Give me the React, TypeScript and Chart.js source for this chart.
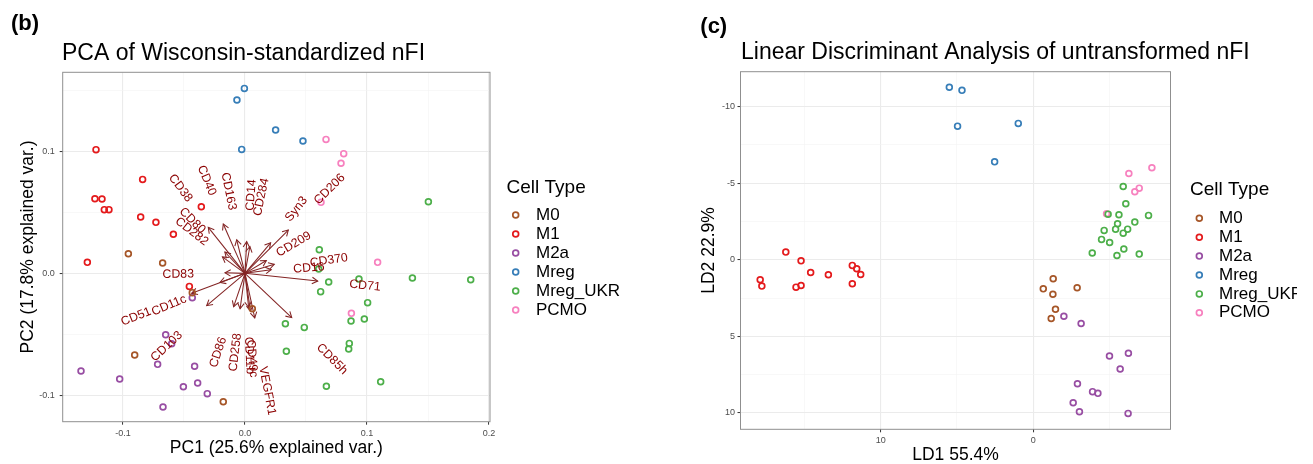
import React, { useEffect, useRef } from "react";
import { Chart, registerables } from "chart.js";

Chart.register(...registerables);

const FONT = "'Liberation Sans', Arial, Helvetica, sans-serif";

// ---------- categories ----------
const cellTypes = ["M0", "M1", "M2a", "Mreg", "Mreg_UKR", "PCMO"];
const cellColors = ["#A65628", "#E41A1C", "#984EA3", "#377EB8", "#4DAF4A", "#F781BF"];

// ---------- PCA scores (PC1, PC2) ----------
const pcaM0 = [[-0.0956, 0.0161], [-0.0675, 0.0085], [-0.0432, -0.0158], [0.006, -0.029], [-0.0904, -0.0669], [-0.0178, -0.1052]];
const pcaM1 = [[-0.1221, 0.1014], [-0.0839, 0.077], [-0.123, 0.0612], [-0.1172, 0.0609], [-0.1153, 0.0522], [-0.1115, 0.0522], [-0.0358, 0.0546], [-0.0855, 0.0462], [-0.073, 0.0418], [-0.0587, 0.032], [-0.1292, 0.009], [-0.0456, -0.0107]];
const pcaM2a = [[-0.0432, -0.0199], [-0.065, -0.0503], [-0.0601, -0.0577], [-0.0716, -0.0746], [-0.1344, -0.0801], [-0.1027, -0.0866], [-0.0413, -0.0762], [-0.0505, -0.0929], [-0.0388, -0.0899], [-0.0309, -0.0986], [-0.0672, -0.1096]];
const pcaMreg = [[-0.0005, 0.1516], [-0.0066, 0.1421], [0.0251, 0.1175], [0.0475, 0.1085], [-0.0027, 0.1016]];
const pcaMregUKR = [[0.1503, 0.0587], [0.0609, 0.0194], [0.0604, 0.0036], [0.0686, -0.0071], [0.062, -0.015], [0.0934, -0.0046], [0.1372, -0.0038], [0.185, -0.0052], [0.1005, -0.024], [0.0978, -0.0374], [0.0869, -0.0391], [0.0331, -0.0413], [0.0486, -0.0443], [0.0339, -0.0639], [0.0855, -0.0574], [0.085, -0.062], [0.0667, -0.0926], [0.1112, -0.0888]];
const pcaPCMO = [[0.0664, 0.1098], [0.0809, 0.0981], [0.0787, 0.0902], [0.0623, 0.0582], [0.1087, 0.009], [0.0872, -0.0328]];
const pcaScores = [pcaM0, pcaM1, pcaM2a, pcaMreg, pcaMregUKR, pcaPCMO];

// ---------- PCA loadings (arrows) and their label anchors ----------
const loadingNames = ["CD38", "CD40", "CD163", "CD14", "CD284", "Syn3", "CD206", "CD209", "CD80", "CD282", "CD370", "CD16", "CD71", "CD85h", "VEGFR1", "CD83", "CD11c", "CD51", "CD103", "CD86", "CD258", "CD11b", "CD49c"];
const loadingX = [-0.0301, -0.0178, -0.0068, 0.0014, 0.004, 0.021, 0.0355, 0.0175, -0.0165, -0.0185, 0.024, 0.0215, 0.0596, 0.0383, 0.008, -0.0164, -0.0205, -0.0437, -0.0314, -0.0093, -0.004, 0.003, 0.0045];
const loadingY = [0.0377, 0.0404, 0.0275, 0.026, 0.022, 0.025, 0.0355, 0.0105, 0.0175, 0.0135, 0.0075, 0.003, -0.0063, -0.0363, -0.0365, 0.0005, -0.0075, -0.0164, -0.0265, -0.0273, -0.029, -0.028, -0.031];
const labelX = [-0.0451, -0.0265, -0.0104, 0.0041, 0.0101, 0.035, 0.0582, 0.0265, -0.0341, -0.0314, 0.0533, 0.0396, 0.0855, 0.0601, 0.0145, -0.0418, -0.0484, -0.0773, -0.0527, -0.0178, -0.006, 0.0027, 0.0045];
const labelY = [0.0595, 0.0642, 0.0519, 0.0513, 0.0472, 0.0437, 0.0579, 0.0158, 0.0341, 0.0246, 0.0082, 0.0033, -0.0088, -0.0593, -0.0765, -0.0006, -0.0205, -0.0309, -0.0492, -0.0525, -0.0492, -0.052, -0.0545];

// ---------- LDA scores (LD1, LD2) ----------
const ldaM0 = [[-1.31, 1.24], [-0.66, 1.9], [-1.29, 2.25], [-2.88, 1.83], [-1.46, 3.23], [-1.18, 3.84]];
const ldaM1 = [[16.22, -0.5], [15.22, 0.07], [17.9, 1.31], [17.79, 1.72], [14.59, 0.83], [13.43, 0.98], [15.55, 1.79], [15.22, 1.68], [11.86, 0.37], [11.57, 0.59], [11.31, 0.96], [11.86, 1.57]];
const ldaM2a = [[-2.01, 3.69], [-3.14, 4.17], [-5.0, 6.29], [-6.24, 6.11], [-5.7, 7.14], [-2.9, 8.1], [-3.89, 8.62], [-4.24, 8.73], [-2.62, 9.34], [-3.03, 9.93], [-6.22, 10.04]];
const ldaMreg = [[5.5, -11.27], [4.67, -11.07], [4.96, -8.73], [0.98, -8.91], [2.53, -6.4]];
const ldaMregUKR = [[-5.9, -4.79], [-6.07, -3.66], [-4.91, -2.98], [-5.62, -2.94], [-7.56, -2.9], [-6.66, -2.46], [-5.53, -2.35], [-4.65, -1.92], [-5.4, -2.0], [-6.19, -2.0], [-5.9, -1.74], [-4.48, -1.33], [-5.01, -1.13], [-3.87, -0.44], [-5.49, -0.28], [-5.94, -0.7], [-6.95, -0.37]];
const ldaPCMO = [[-7.78, -6.01], [-6.27, -5.64], [-6.95, -4.68], [-6.66, -4.44], [-4.81, -3.01]];
const ldaScores = [ldaM0, ldaM1, ldaM2a, ldaMreg, ldaMregUKR, ldaPCMO];

// ---------- ticks ----------
const pcaXTicks = [-0.1, 0, 0.1, 0.2];
const pcaXTickLabels = ["-0.1", "0.0", "0.1", "0.2"];
const pcaXMinor = [-0.05, 0.05, 0.15];
const pcaYTicks = [-0.1, 0, 0.1];
const pcaYTickLabels = ["-0.1", "0.0", "0.1"];
const pcaYMinor = [-0.05, 0.05, 0.15];

const ldaXTicks = [10, 0];
const ldaXTickLabels = ["10", "0"];
const ldaXMinor = [15, 5, -5];
const ldaYTicks = [-10, -5, 0, 5, 10];
const ldaYTickLabels = ["-10", "-5", "0", "5", "10"];
const ldaYMinor = [-7.5, -2.5, 2.5, 7.5];

function axis(o: any) {
  return {
    type: "linear",
    bounds: "data",
    min: o.min,
    max: o.max,
    reverse: !!o.reverse,
    afterBuildTicks: (scale: any) => {
      const t = o.major.map((v: number, i: number) => ({ value: v, mj: true, lab: o.labels[i] }))
        .concat(o.minor.map((v: number) => ({ value: v, mj: false, lab: "" })));
      t.sort((a: any, b: any) => a.value - b.value);
      scale.ticks = t;
    },
    afterFit: (scale: any) => {
      if (o.horizontal) scale.height = o.size;
      else scale.width = o.size;
    },
    grid: {
      color: (c: any) => (c.tick && c.tick.mj ? "#EBEBEB" : "#F4F4F4"),
      lineWidth: (c: any) => (c.tick && c.tick.mj ? 1.1 : 0.6),
      tickColor: (c: any) => (c.tick && c.tick.mj ? "#333333" : "rgba(0,0,0,0)"),
      tickLength: 3,
      tickWidth: 1,
      drawTicks: true,
    },
    border: { display: false },
    ticks: {
      autoSkip: false,
      maxRotation: 0,
      minRotation: 0,
      padding: o.tickPad,
      font: { family: FONT, size: 9 },
      color: "#4D4D4D",
      callback: (_v: any, i: number, ticks: any[]) => ticks[i].lab,
    },
    title: {
      display: true,
      text: o.title,
      color: "#000",
      font: { family: FONT, size: 17.5, lineHeight: 1 },
      padding: o.titlePad,
    },
  };
}

function drawArrow(ctx: CanvasRenderingContext2D, x0: number, y0: number, x1: number, y1: number) {
  ctx.beginPath();
  ctx.moveTo(x0, y0);
  ctx.lineTo(x1, y1);
  ctx.stroke();
  const a = Math.atan2(y1 - y0, x1 - x0);
  const L = 6.5;
  const h = Math.PI / 6;
  ctx.beginPath();
  ctx.moveTo(x1 - L * Math.cos(a - h), y1 - L * Math.sin(a - h));
  ctx.lineTo(x1, y1);
  ctx.lineTo(x1 - L * Math.cos(a + h), y1 - L * Math.sin(a + h));
  ctx.stroke();
}

function makeDecor(cfg: any) {
  return {
    id: "decor",
    beforeDatasetsDraw(chart: any) {
      if (!cfg.biplot) return;
      const ctx = chart.ctx;
      const xs = chart.scales.x;
      const ys = chart.scales.y;
      const ox = xs.getPixelForValue(0);
      const oy = ys.getPixelForValue(0);
      ctx.save();
      ctx.strokeStyle = "#832424";
      ctx.lineWidth = 1.05;
      for (let i = 0; i < loadingNames.length; i++) {
        drawArrow(ctx, ox, oy, xs.getPixelForValue(loadingX[i]), ys.getPixelForValue(loadingY[i]));
      }
      ctx.restore();
    },
    afterDatasetsDraw(chart: any) {
      const ctx = chart.ctx;
      const a = chart.chartArea;
      if (cfg.biplot) {
        const xs = chart.scales.x;
        const ys = chart.scales.y;
        ctx.save();
        ctx.fillStyle = "#8B0000";
        ctx.font = `12.3px ${FONT}`;
        ctx.textBaseline = "middle";
        for (let i = 0; i < loadingNames.length; i++) {
          const px = xs.getPixelForValue(labelX[i]);
          const py = ys.getPixelForValue(labelY[i]);
          const ang = Math.atan(labelY[i] / labelX[i]);
          ctx.save();
          ctx.translate(px, py);
          ctx.rotate(-ang);
          ctx.textAlign = labelX[i] > 0 ? "left" : "right";
          ctx.fillText(loadingNames[i], 0, 0);
          ctx.restore();
        }
        ctx.restore();
      }
      ctx.save();
      ctx.strokeStyle = "#8F8F8F";
      ctx.lineWidth = 1;
      ctx.strokeRect(a.left, a.top, a.right - a.left, a.bottom - a.top);
      ctx.restore();
    },
    afterDraw(chart: any) {
      const ctx = chart.ctx;
      ctx.save();
      ctx.fillStyle = "#000";
      ctx.textBaseline = "middle";
      ctx.textAlign = "left";
      ctx.font = `bold 22px ${FONT}`;
      ctx.fillText(cfg.tag, cfg.tagX, cfg.tagY);
      ctx.font = `23px ${FONT}`;
      ctx.fillText(cfg.title, cfg.titleX, cfg.titleY);
      // legend
      const lg = cfg.legend;
      ctx.font = `19px ${FONT}`;
      ctx.fillText("Cell Type", lg.x, lg.titleY);
      ctx.font = `17px ${FONT}`;
      chart.data.datasets.forEach((ds: any, i: number) => {
        const y = lg.itemY + i * lg.step;
        ctx.beginPath();
        ctx.arc(lg.markerX, y, 2.9, 0, Math.PI * 2);
        ctx.strokeStyle = ds.borderColor;
        ctx.lineWidth = 1.7;
        ctx.stroke();
        ctx.fillStyle = "#000";
        ctx.fillText(ds.label, lg.textX, y);
      });
      ctx.restore();
    },
  };
}

function datasets(scores: number[][][]) {
  return cellTypes.map((name, k) => ({
    label: name,
    data: scores[k].map(([x, y]) => ({ x, y })),
    borderColor: cellColors[k],
    backgroundColor: "rgba(0,0,0,0)",
    pointRadius: 2.9,
    pointHoverRadius: 2.9,
    borderWidth: 1.7,
    showLine: false,
  }));
}

function baseOptions(padding: any, scales: any) {
  return {
    responsive: false,
    animation: false,
    events: [],
    layout: { padding },
    plugins: { legend: { display: false }, tooltip: { enabled: false }, title: { display: false } },
    scales,
  };
}

export default function App() {
  const pcaRef = useRef<HTMLCanvasElement>(null);
  const ldaRef = useRef<HTMLCanvasElement>(null);

  useEffect(() => {
    const pca = new Chart(pcaRef.current as HTMLCanvasElement, {
      type: "scatter",
      data: { datasets: datasets(pcaScores) as any },
      options: baseOptions(
        { left: 17.5, right: 170, top: 72.3, bottom: 0 },
        {
          x: axis({ min: -0.1494, max: 0.2008, major: pcaXTicks, labels: pcaXTickLabels, minor: pcaXMinor, horizontal: true, size: 42.3, tickPad: 3.5, title: "PC1 (25.6% explained var.)", titlePad: { top: 0, bottom: 7 } }),
          y: axis({ min: -0.1216, max: 0.1648, major: pcaYTicks, labels: pcaYTickLabels, minor: pcaYMinor, horizontal: false, size: 45.2, tickPad: 5, title: "PC2 (17.8% explained var.)", titlePad: { top: 1.75, bottom: 0 } }),
        }
      ) as any,
      plugins: [
        makeDecor({
          biplot: true,
          tag: "(b)", tagX: 11, tagY: 24,
          title: "PCA of Wisconsin-standardized nFI", titleX: 62, titleY: 53.3,
          legend: { x: 506.5, titleY: 187.3, markerX: 515.7, textX: 536, itemY: 215, step: 19 },
        }),
      ],
    });

    const lda = new Chart(ldaRef.current as HTMLCanvasElement, {
      type: "scatter",
      data: { datasets: datasets(ldaScores) as any },
      options: baseOptions(
        { left: 38.3, right: 126.5, top: 71.7, bottom: 0 },
        {
          x: axis({ min: -9.0, max: 19.19, reverse: true, major: ldaXTicks, labels: ldaXTickLabels, minor: ldaXMinor, horizontal: true, size: 34.7, tickPad: 2.5, title: "LD1 55.4%", titlePad: { top: 0, bottom: 0 } }),
          y: axis({ min: -12.29, max: 11.08, reverse: true, major: ldaYTicks, labels: ldaYTickLabels, minor: ldaYMinor, horizontal: false, size: 42.2, tickPad: 2.5, title: "LD2 22.9%", titlePad: { top: 1.75, bottom: 0 } }),
        }
      ) as any,
      plugins: [
        makeDecor({
          biplot: false,
          tag: "(c)", tagX: 40.3, tagY: 26.7,
          title: "Linear Discriminant Analysis of untransformed nFI", titleX: 81, titleY: 52.7,
          legend: { x: 530, titleY: 190, markerX: 539.3, textX: 559, itemY: 218.3, step: 18.9 },
        }),
      ],
    });

    return () => {
      pca.destroy();
      lda.destroy();
    };
  }, []);

  return (
    <div style={{ position: "absolute", left: 0, top: 0, width: 1313, height: 464, background: "#fff", overflow: "hidden" }}>
      <canvas ref={pcaRef} width={660} height={464} style={{ position: "absolute", left: 0, top: 0, width: 660, height: 464 }} />
      <canvas ref={ldaRef} width={637} height={464} style={{ position: "absolute", left: 660, top: 0, width: 637, height: 464 }} />
    </div>
  );
}
